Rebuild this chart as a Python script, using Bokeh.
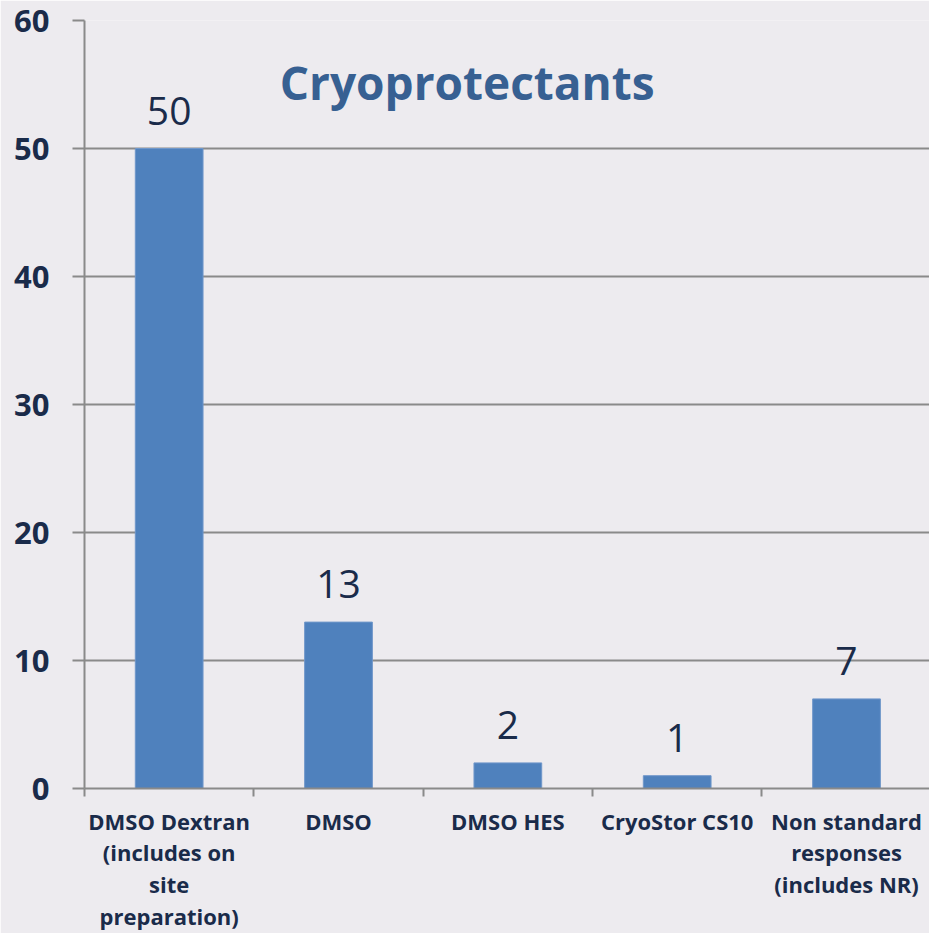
from bokeh.plotting import figure
from bokeh.models import (ColumnDataSource, FixedTicker, Range1d, LabelSet, Label)
from bokeh.core.properties import value
from bokeh.embed import file_html
from bokeh.resources import INLINE

categories = ["DMSO Dextran\n(includes on\nsite\npreparation)", "DMSO", "DMSO HES",
              "CryoStor CS10", "Non standard\nresponses\n(includes NR)"]
values = [50, 13, 2, 1, 7]
y_ticks = [0, 10, 20, 30, 40, 50, 60]
title_text = "Cryoprotectants"

BG = "#EDEBEF"
GRID = "#8A8A8A"
TEXT = "#1A2B4A"
BAR = "#4F81BD"
FONT = "Open Sans"

xs = [i + 0.5 for i in range(len(categories))]
src = ColumnDataSource(dict(x=xs, top=values, lbl=[str(v) for v in values]))

p = figure(width=929, height=933, output_backend="svg", toolbar_location=None,
           x_range=Range1d(0, 4.99), y_range=Range1d(0, 60),
           min_border_left=84, min_border_top=20, min_border_right=0, min_border_bottom=145)
p.background_fill_color = BG
p.border_fill_color = BG
p.outline_line_color = None

p.vbar(x="x", top="top", width=0.4, bottom=0, source=src,
       fill_color=BAR, line_color="#7097CA", line_width=1)

labels = LabelSet(x="x", y="top", text="lbl", source=src, y_offset=24,
                  text_align="center", text_baseline="alphabetic",
                  text_font=value(FONT), text_font_size=value("39px"), text_color=value(TEXT))
p.add_layout(labels)

p.add_layout(Label(x=2.26, y=55.2, text=title_text, text_align="center",
                   text_baseline="middle", text_font=FONT, text_font_size="46px",
                   text_font_style="bold", text_color="#376092"))

# y axis
p.yaxis.ticker = FixedTicker(ticks=y_ticks)
p.yaxis.minor_tick_line_color = None
p.yaxis.major_tick_out = 12
p.yaxis.major_tick_in = 0
p.yaxis.major_tick_line_color = GRID
p.yaxis.major_tick_line_width = 2
p.yaxis.axis_line_color = GRID
p.yaxis.axis_line_width = 2
p.yaxis.major_label_standoff = 23
p.yaxis.major_label_text_font = FONT
p.yaxis.major_label_text_font_size = "31px"
p.yaxis.major_label_text_font_style = "bold"
p.yaxis.major_label_text_color = TEXT

# x axis
p.xaxis.ticker = FixedTicker(ticks=xs, minor_ticks=[0, 1, 2, 3, 4, 5])
p.xaxis.major_label_overrides = {x: c for x, c in zip(xs, categories)}
p.xaxis.major_tick_line_color = None
p.xaxis.major_tick_out = 0
p.xaxis.major_tick_in = 0
p.xaxis.minor_tick_out = 8
p.xaxis.minor_tick_in = 0
p.xaxis.minor_tick_line_color = GRID
p.xaxis.minor_tick_line_width = 2
p.xaxis.axis_line_color = GRID
p.xaxis.axis_line_width = 2
p.xaxis.major_label_standoff = 9
p.xaxis.major_label_text_font = FONT
p.xaxis.major_label_text_font_size = "22px"
p.xaxis.major_label_text_font_style = "bold"
p.xaxis.major_label_text_color = TEXT
p.xaxis.major_label_text_align = "center"
p.xaxis.major_label_text_line_height = 1.06

p.xgrid.grid_line_color = None
p.ygrid.grid_line_color = GRID
p.ygrid.grid_line_width = 2

open("out.html", "w").write(file_html(p, INLINE))
